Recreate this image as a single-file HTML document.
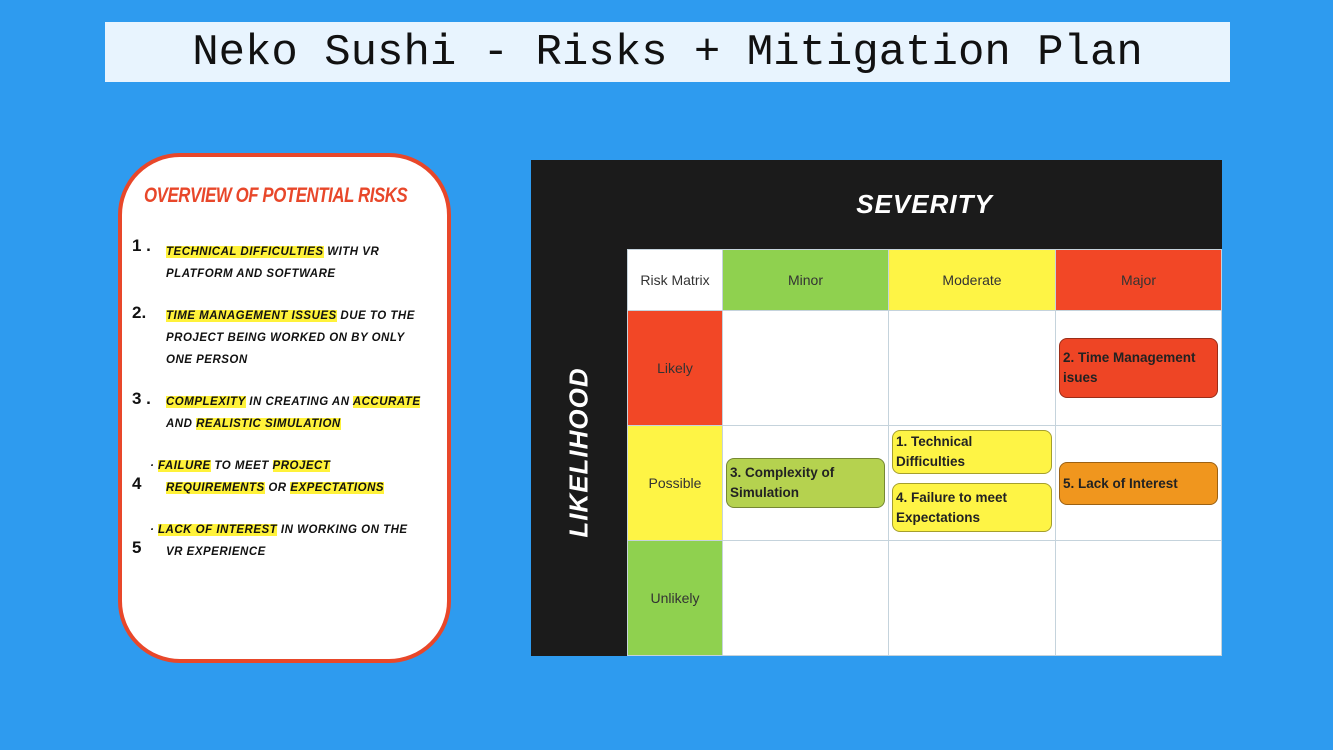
<!DOCTYPE html>
<html><head><meta charset="utf-8"><style>
*{margin:0;padding:0;box-sizing:border-box}
body{width:1333px;height:750px;background:#2E9BEF;position:relative;overflow:hidden;font-family:"Liberation Sans",sans-serif}
.a{position:absolute}
.title{left:105px;top:22px;width:1125px;height:60px;background:#E8F4FE;font-family:"Liberation Mono",monospace;font-size:44px;text-align:center;line-height:62px;color:#111}
.card{left:118px;top:153px;width:333px;height:510px;background:#fff;border:4px solid #E8472A;border-radius:62px}
.h{left:144px;top:184px;font-weight:bold;font-style:italic;font-size:21px;color:#E8472A;text-transform:uppercase;letter-spacing:-0.5px;transform:scaleX(0.8);transform-origin:left;white-space:nowrap}
.l{left:166px;font-size:11.5px;font-style:italic;font-weight:bold;text-transform:uppercase;color:#111;white-space:nowrap;letter-spacing:0.5px;line-height:16px}
.l b{background:#FFF23A;font-weight:bold}
.n{left:132px;font-size:17px;font-weight:bold;color:#111}
.cell{position:absolute;border:1px solid #c5d3dc;display:flex;align-items:center;justify-content:center;font-size:14px;color:#333}
.note{position:absolute;border:1px solid rgba(0,0,0,0.35);border-radius:8px;font-size:13.5px;font-weight:bold;color:#222;padding:2px 3px;line-height:20px;display:flex;align-items:center}
.big{color:#fff;font-size:26px;font-weight:bold;font-style:italic;text-transform:uppercase;white-space:nowrap;letter-spacing:1px}
</style></head><body>
<div class="a title">Neko Sushi - Risks + Mitigation Plan</div>
<div class="a card"></div>
<div class="a h">Overview of Potential Risks</div>

<div class="a n" style="top:236px">1 .</div>
<div class="a l" style="top:244px"><b>Technical difficulties</b> with VR</div>
<div class="a l" style="top:266px">platform and software</div>
<div class="a n" style="top:303px">2.</div>
<div class="a l" style="top:308px"><b>Time management issues</b> due to the</div>
<div class="a l" style="top:330px">project being worked on by only</div>
<div class="a l" style="top:352px">one person</div>
<div class="a n" style="top:389px">3 .</div>
<div class="a l" style="top:394px"><b>Complexity</b> in creating an <b>accurate</b></div>
<div class="a l" style="top:416px">and <b>realistic simulation</b></div>
<div class="a l" style="top:458px;left:150px">· <b>Failure</b> to meet <b>project</b></div>
<div class="a n" style="top:474px">4</div>
<div class="a l" style="top:480px"><b>requirements</b> or <b>expectations</b></div>
<div class="a l" style="top:522px;left:150px">· <b>Lack of interest</b> in working on the</div>
<div class="a n" style="top:538px">5</div>
<div class="a l" style="top:544px">VR experience</div>

<div class="a" style="left:531px;top:160px;width:691px;height:496px;background:#1b1b1b"></div>
<div class="a big" style="left:627px;top:160px;width:595px;height:89px;display:flex;align-items:center;justify-content:center">Severity</div>
<div class="a" style="left:531px;top:249px;width:96px;height:407px;display:flex;align-items:center;justify-content:center"><div class="big" style="transform:rotate(-90deg)">Likelihood</div></div>

<div class="cell" style="left:627px;top:249px;width:96px;height:62px;background:#fff">Risk Matrix</div>
<div class="cell" style="left:722px;top:249px;width:167px;height:62px;background:#8FD14F">Minor</div>
<div class="cell" style="left:888px;top:249px;width:168px;height:62px;background:#FEF445">Moderate</div>
<div class="cell" style="left:1055px;top:249px;width:167px;height:62px;background:#F24726">Major</div>

<div class="cell" style="left:627px;top:310px;width:96px;height:116px;background:#F24726">Likely</div>
<div class="cell" style="left:627px;top:425px;width:96px;height:116px;background:#FEF445">Possible</div>
<div class="cell" style="left:627px;top:540px;width:96px;height:116px;background:#8FD14F">Unlikely</div>

<div class="cell" style="left:722px;top:310px;width:167px;height:116px;background:#fff"></div>
<div class="cell" style="left:888px;top:310px;width:168px;height:116px;background:#fff"></div>
<div class="cell" style="left:1055px;top:310px;width:167px;height:116px;background:#fff"></div>
<div class="cell" style="left:722px;top:425px;width:167px;height:116px;background:#fff"></div>
<div class="cell" style="left:888px;top:425px;width:168px;height:116px;background:#fff"></div>
<div class="cell" style="left:1055px;top:425px;width:167px;height:116px;background:#fff"></div>
<div class="cell" style="left:722px;top:540px;width:167px;height:116px;background:#fff"></div>
<div class="cell" style="left:888px;top:540px;width:168px;height:116px;background:#fff"></div>
<div class="cell" style="left:1055px;top:540px;width:167px;height:116px;background:#fff"></div>

<div class="note" style="left:1059px;top:338px;width:159px;height:60px;background:#EE4525">2. Time Management isues</div>
<div class="note" style="left:892px;top:430px;width:160px;height:44px;background:#FEF445">1. Technical<br>Difficulties</div>
<div class="note" style="left:892px;top:483px;width:160px;height:49px;background:#FEF445">4. Failure to meet Expectations</div>
<div class="note" style="left:726px;top:458px;width:159px;height:50px;background:#B5D24F">3. Complexity of Simulation</div>
<div class="note" style="left:1059px;top:462px;width:159px;height:43px;background:#F0961E">5. Lack of Interest</div>
</body></html>
